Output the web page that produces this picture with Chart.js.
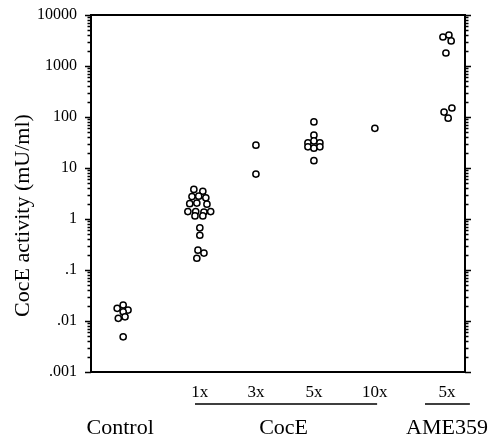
<!DOCTYPE html>
<html>
<head>
<meta charset="utf-8">
<script src="https://cdn.jsdelivr.net/npm/chart.js@4.4.1/dist/chart.umd.min.js"></script>
<style>
  html, body { margin: 0; padding: 0; background: #fff; }
  canvas { display: block; }
</style>
</head>
<body>
<canvas id="c" width="494" height="439"></canvas>
<script>
// ---------- data ----------
const subLabels   = ['1x', '3x', '5x', '10x', '5x'];
const groupLabels = ['Control', 'CocE', 'AME359'];
const yTickValues = [0.001, 0.01, 0.1, 1, 10, 100, 1000, 10000];
const yTickLabels = ['.001', '.01', '.1', '1', '10', '100', '1000', '10000'];
const yTitle = 'CocE activity (mU/ml)';

const controlValues = [0.0177, 0.0206, 0.0164, 0.0152, 0.0113, 0.0121, 0.0049];
const cocE1xValues  = [3.8, 3.5, 2.75, 2.8, 2.6, 2.0, 2.05, 1.95, 1.4, 1.4, 1.37, 1.4, 1.15, 1.15, 0.67, 0.48, 0.245, 0.215, 0.17];
const cocE3xValues  = [28, 7.6];
const cocE5xValues  = [80, 44, 31, 34, 31, 26, 24.5, 26, 13.9];
const cocE10xValues = [60];
const ame359Values  = [3700, 4050, 3100, 1800, 150, 125, 95];

// ---------- layout (x axis units 0..100) ----------
const slotControl = 8.6, slot1x = 29.1, slot3x = 44.1, slot5x = 59.6, slot10x = 75.9, slotAme = 95.2;
const subSlots   = [slot1x, slot3x, slot5x, slot10x, slotAme];
const groupSlots = [7.8, 51.5, slotAme];
const underlineSpans = [[27.8, 76.5], [89.3, 101.3]];
const jitterControl = [-1.6, 0, 1.3, 0, -1.3, 0.5, 0];
const jitter1x  = [-1.6, 0.8, -2.1, -0.3, 1.6, -2.7, -0.8, 1.9, -3.2, -1.1, 1.1, 2.9, -1.3, 0.8, 0, 0, -0.5, 1.1, -0.8];
const jitter3x  = [0, 0];
const jitter5x  = [0, 0, -1.6, 0, 1.6, -1.6, 0, 1.6, 0];
const jitter10x = [0];
const jitterAme = [-1.1, 0.5, 1.1, -0.3, 1.3, -0.8, 0.3];

const SERIF = '"Liberation Serif", "Times New Roman", serif';

function makeDataset(label, values, slot, jitter) {
  return {
    label,
    data: values.map((v, i) => ({ x: slot + jitter[i], y: v })),
    pointStyle: 'circle',
    pointRadius: 3.1,
    pointHoverRadius: 3.1,
    pointBorderWidth: 1.5,
    pointBackgroundColor: '#fff',
    pointBorderColor: '#000',
    clip: false
  };
}

const yAllTicks = [];
yTickValues.forEach((p, i) => {
  if (i === yTickValues.length - 1) { yAllTicks.push(p); return; }
  for (let m = 1; m <= 9; m++) yAllTicks.push(+(m * p).toPrecision(6));
});
const isMajor = v => yTickValues.some(p => Math.abs(Math.log10(p) - Math.log10(v)) < 1e-6);

const framePlugin = {
  id: 'frame',
  afterDraw(chart) {
    const { ctx, chartArea: a, scales } = chart;
    const y = scales.y, x = scales.x;
    ctx.save();
    ctx.strokeStyle = '#000';
    ctx.lineWidth = 2;
    ctx.beginPath();
    ctx.rect(a.left, a.top, a.right - a.left, a.bottom - a.top);
    ctx.stroke();
    ctx.lineWidth = 1.3;
    ctx.beginPath();
    y.ticks.forEach(t => {
      const py = Math.round(y.getPixelForValue(t.value)) + 0.5;
      const len = isMajor(t.value) ? 6 : 3.5;
      ctx.moveTo(a.left - len, py); ctx.lineTo(a.left, py);
      ctx.moveTo(a.right, py); ctx.lineTo(a.right + len, py);
    });
    ctx.stroke();
    ctx.lineWidth = 1.6;
    ctx.beginPath();
    const uy = a.bottom + 32;
    underlineSpans.forEach(([s, e]) => {
      ctx.moveTo(x.getPixelForValue(s), uy);
      ctx.lineTo(x.getPixelForValue(e), uy);
    });
    ctx.stroke();
    ctx.restore();
  }
};

const noSidePadding = s => { s.paddingLeft = 0; s.paddingRight = 0; };

new Chart(document.getElementById('c').getContext('2d'), {
  type: 'scatter',
  data: {
    datasets: [
      makeDataset('Control', controlValues, slotControl, jitterControl),
      makeDataset('CocE 1x', cocE1xValues, slot1x, jitter1x),
      makeDataset('CocE 3x', cocE3xValues, slot3x, jitter3x),
      makeDataset('CocE 5x', cocE5xValues, slot5x, jitter5x),
      makeDataset('CocE 10x', cocE10xValues, slot10x, jitter10x),
      makeDataset('AME359 5x', ame359Values, slotAme, jitterAme)
    ]
  },
  options: {
    responsive: false,
    animation: false,
    layout: { padding: { top: 15, right: 29, left: 0, bottom: 0 } },
    plugins: { legend: { display: false }, tooltip: { enabled: false } },
    scales: {
      x: {
        type: 'linear', position: 'bottom', min: 0, max: 100, weight: 0,
        grid: { display: false, drawTicks: false }, border: { display: false },
        afterBuildTicks: s => { s.ticks = subSlots.map(v => ({ value: v })); },
        afterFit: s => { s.height = 32; noSidePadding(s); },
        ticks: {
          autoSkip: false, maxRotation: 0, minRotation: 0, padding: 10, color: '#000',
          font: { family: SERIF, size: 17 },
          callback: (v, i) => subLabels[i]
        }
      },
      x2: {
        type: 'linear', position: 'bottom', min: 0, max: 100, weight: 1,
        grid: { display: false, drawTicks: false }, border: { display: false },
        afterBuildTicks: s => { s.ticks = groupSlots.map(v => ({ value: v })); },
        afterFit: s => { s.height = 35; noSidePadding(s); },
        ticks: {
          autoSkip: false, maxRotation: 0, minRotation: 0, padding: 11, color: '#000',
          font: { family: SERIF, size: 22 },
          callback: (v, i) => groupLabels[i]
        }
      },
      y: {
        type: 'logarithmic', position: 'left', min: 0.001, max: 10000,
        grid: { display: false, drawTicks: false }, border: { display: false },
        afterBuildTicks: s => { s.ticks = yAllTicks.map(v => ({ value: v })); },
        afterFit: s => { s.width = 91; s.paddingTop = 0; s.paddingBottom = 0; },
        ticks: {
          autoSkip: false, padding: 14, color: '#000',
          font: { family: SERIF, size: 16 },
          callback: (v) => {
            const i = yTickValues.findIndex(p => Math.abs(Math.log10(p) - Math.log10(v)) < 1e-6);
            return i >= 0 ? yTickLabels[i] : '';
          }
        },
        title: {
          display: true,
          text: yTitle + '\u00a0'.repeat(8),
          color: '#000',
          font: { family: SERIF, size: 22, weight: 'normal' },
          padding: { top: 10, bottom: 0 }
        }
      }
    }
  },
  plugins: [framePlugin]
});
</script>
</body>
</html>
